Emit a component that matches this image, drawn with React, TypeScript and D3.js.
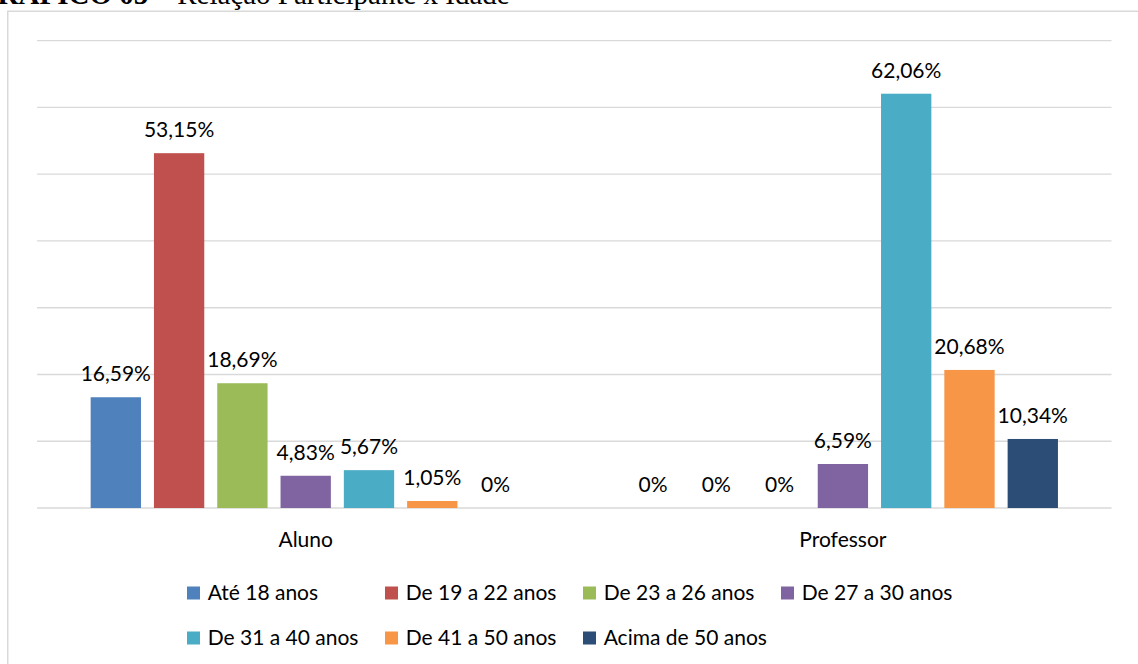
import React from "react";
import * as d3 from "d3";

const categories = ["Aluno", "Professor"];
const seriesNames = [
  "Até 18 anos",
  "De 19 a 22 anos",
  "De 23 a 26 anos",
  "De 27 a 30 anos",
  "De 31 a 40 anos",
  "De 41 a 50 anos",
  "Acima de 50 anos",
];
const alunoValues = [16.59, 53.15, 18.69, 4.83, 5.67, 1.05, 0];
const professorValues = [0, 0, 0, 6.59, 62.06, 20.68, 10.34];
const seriesColors = ["#4F81BD", "#C0504D", "#9BBB59", "#8064A2", "#4BACC6", "#F79646", "#2C4D75"];
const yTicks = [0, 10, 20, 30, 40, 50, 60, 70];

const W = 1138;
const H = 664;
const FONT = "Lato, 'Open Sans', sans-serif";

const fmt = (v: number) => (v === 0 ? "0%" : v.toFixed(2).replace(".", ",") + "%");

export default function App() {
  const valuesByCategory = [alunoValues, professorValues];

  const x0 = d3.scaleBand<string>().domain(categories).range([37.1, 1111.5]).padding(0);
  const x1 = d3
    .scaleBand<string>()
    .domain(seriesNames)
    .range([0, x0.bandwidth()])
    .paddingInner(0.205)
    .paddingOuter(0.846);
  const y = d3.scaleLinear().domain([0, 70]).range([508, 40.7]);

  const legendCols = [187, 385, 583, 781];
  const legendRows = [593, 638];

  return (
    <svg
      width={W}
      height={H}
      style={{ position: "absolute", left: 0, top: 0, background: "#fff" }}
    >
      {/* document caption above the chart */}
      <text x={-25} y={3.7} fontFamily="'Liberation Serif', 'Times New Roman', serif" fontSize={29} fill="#000">
        <tspan fontWeight="bold">GRÁFICO 05</tspan>
        <tspan> – Relação Participante x Idade</tspan>
      </text>

      {/* chart frame */}
      <rect x={7.75} y={11.25} width={W + 20} height={H + 20} fill="#fff" stroke="#d9d9d9" strokeWidth={1.5} />

      {/* gridlines */}
      {yTicks.map((t) => (
        <line
          key={t}
          x1={x0.range()[0]}
          x2={x0.range()[1]}
          y1={y(t)}
          y2={y(t)}
          stroke="#d9d9d9"
          strokeWidth={1.3}
        />
      ))}

      {/* bars and value labels */}
      {categories.map((cat, ci) => (
        <g key={cat} transform={`translate(${x0(cat)},0)`}>
          {seriesNames.map((s, si) => {
            const v = valuesByCategory[ci][si];
            const bx = x1(s)!;
            const bw = x1.bandwidth();
            return (
              <g key={s}>
                {v > 0 && (
                  <rect x={bx} y={y(v)} width={bw} height={y(0) - y(v)} fill={seriesColors[si]} />
                )}
                <text
                  x={bx + bw / 2}
                  y={y(v) - 16}
                  textAnchor="middle"
                  fontFamily={FONT}
                  fontSize={21}
                  fill="#000"
                >
                  {fmt(v)}
                </text>
              </g>
            );
          })}
          <text
            x={x0.bandwidth() / 2}
            y={546.7}
            textAnchor="middle"
            fontFamily={FONT}
            fontSize={21}
            fill="#000"
          >
            {cat}
          </text>
        </g>
      ))}

      {/* legend */}
      {seriesNames.map((s, i) => {
        const col = i % 4;
        const row = Math.floor(i / 4);
        const lx = legendCols[col];
        const cy = legendRows[row];
        return (
          <g key={s}>
            <rect x={lx} y={cy - 6.5} width={13} height={13} fill={seriesColors[i]} />
            <text x={lx + 20.7} y={cy + 7} fontFamily={FONT} fontSize={21} fill="#000">
              {s}
            </text>
          </g>
        );
      })}
    </svg>
  );
}
